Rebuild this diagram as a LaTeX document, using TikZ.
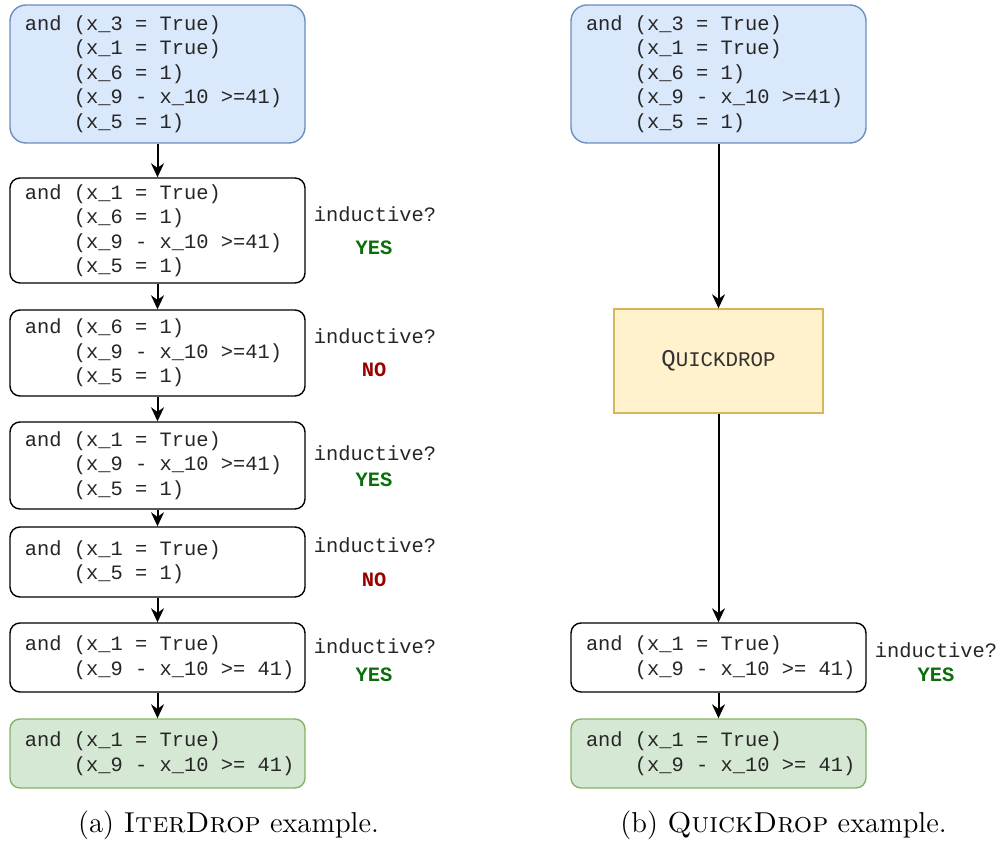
\documentclass[tikz,border=0pt]{standalone}
\usepackage{fontspec}
\setmonofont{Liberation Mono}
\usetikzlibrary{arrows.meta}
\definecolor{bluefill}{HTML}{DAE8FC}
\definecolor{bluedraw}{HTML}{6C8EBF}
\definecolor{greenfill}{HTML}{D5E8D4}
\definecolor{greendraw}{HTML}{82B366}
\definecolor{yellowfill}{HTML}{FFF2CC}
\definecolor{yellowdraw}{HTML}{D6B656}
\definecolor{yescol}{HTML}{0B6E0B}
\definecolor{nocol}{HTML}{990000}
\newcommand{\myind}{\phantom{and }}
\newcommand{\ms}{\spaceskip=0.6em\xspaceskip=0.6em\hfuzz=20pt\relax}
\newcommand{\monofont}{\ttfamily\fontsize{10.2}{12.25}\selectfont}
\tikzset{
  formbox/.style={draw=black, fill=white, line width=0.7pt, rounded corners=5pt,
    minimum width=147.5pt, text width=132.5pt, inner xsep=7.5pt, inner ysep=0pt,
    align=left, font=\monofont, text=black!85},
  bluebox/.style={formbox, draw=bluedraw, fill=bluefill, rounded corners=8pt},
  greenbox/.style={formbox, draw=greendraw, fill=greenfill},
  qbox/.style={draw=yellowdraw, fill=yellowfill, line width=0.7pt,
    minimum width=104.5pt, minimum height=52pt, inner sep=0pt,
    font=\ttfamily, text=black!80},
  lbl/.style={font=\monofont, inner sep=0pt, text=black!85},
  yes/.style={lbl, font=\ttfamily\bfseries\fontsize{10.2}{12.25}\selectfont, text=yescol},
  no/.style={lbl, font=\ttfamily\bfseries\fontsize{10.2}{12.25}\selectfont, text=nocol},
  arr/.style={-{Stealth[length=7pt,width=6.5pt]}, line width=1pt},
  captext/.style={font=\fontsize{14.4}{17}\selectfont, inner sep=0pt}
}
\begin{document}
\begin{tikzpicture}[x=0.5pt,y=-0.5pt]
\useasboundingbox (0,0) rectangle (1000,844);
% left column
\node[bluebox, minimum height=69pt] (a1) at (157.5,74) {\ms and (x\_3 = True)\\ \myind(x\_1 = True)\\ \myind(x\_6 = 1)\\ \mbox{\myind(x\_9 - x\_10 >=41)}\\ \myind(x\_5 = 1)};
\node[formbox, minimum height=52.5pt] (a2) at (157.5,230.5) {\ms and (x\_1 = True)\\ \myind(x\_6 = 1)\\ \mbox{\myind(x\_9 - x\_10 >=41)}\\ \myind(x\_5 = 1)};
\node[formbox, minimum height=43pt] (a3) at (157.5,353) {\ms and (x\_6 = 1)\\ \mbox{\myind(x\_9 - x\_10 >=41)}\\ \myind(x\_5 = 1)};
\node[formbox, minimum height=43.5pt] (a4) at (157.5,465.5) {\ms and (x\_1 = True)\\ \mbox{\myind(x\_9 - x\_10 >=41)}\\ \myind(x\_5 = 1)};
\node[formbox, minimum height=35pt] (a5) at (157.5,562) {\ms and (x\_1 = True)\\ \myind(x\_5 = 1)};
\node[formbox, minimum height=34.5pt] (a6) at (157.5,657.5) {\ms and (x\_1 = True)\\ \mbox{\myind(x\_9 - x\_10 >= 41)}};
\node[greenbox, minimum height=34.5pt] (a7) at (157.5,753.5) {\ms and (x\_1 = True)\\ \mbox{\myind(x\_9 - x\_10 >= 41)}};
\draw[arr] (a1) -- (a2);
\draw[arr] (a2) -- (a3);
\draw[arr] (a3) -- (a4);
\draw[arr] (a4) -- (a5);
\draw[arr] (a5) -- (a6);
\draw[arr] (a6) -- (a7);
\node[lbl] (q2) at (375,214) {inductive?};
\node[yes] (r2) at (374,248) {YES};
\node[lbl] (q3) at (375,336) {inductive?};
\node[no] (r3) at (374,370) {NO};
\node[lbl] (q4) at (375,453) {inductive?};
\node[yes] (r4) at (374,480) {YES};
\node[lbl] (q5) at (375,545) {inductive?};
\node[no] (r5) at (374,580) {NO};
\node[lbl] (q6) at (375,646) {inductive?};
\node[yes] (r6) at (374,675) {YES};
% right column
\node[bluebox, minimum height=69pt] (b1) at (718.5,74) {\ms and (x\_3 = True)\\ \myind(x\_1 = True)\\ \myind(x\_6 = 1)\\ \mbox{\myind(x\_9 - x\_10 >=41)}\\ \myind(x\_5 = 1)};
\node[qbox] (qd) at (718.5,361) {{\fontsize{12}{14}\selectfont Q}{\fontsize{10.4}{12}\selectfont UICKDROP}};
\node[formbox, minimum height=34.5pt] (b2) at (718.5,657.5) {\ms and (x\_1 = True)\\ \mbox{\myind(x\_9 - x\_10 >= 41)}};
\node[greenbox, minimum height=34.5pt] (b3) at (718.5,753.5) {\ms and (x\_1 = True)\\ \mbox{\myind(x\_9 - x\_10 >= 41)}};
\draw[arr] (b1) -- (qd);
\draw[arr] (qd) -- (b2);
\draw[arr] (b2) -- (b3);
\node[lbl] (bq) at (936,650) {inductive?};
\node[yes] (br) at (936,675) {YES};
% captions
\node[captext] (ca) at (228.5,825) {(a) \textsc{IterDrop} example.};
\node[captext] (cb) at (783.5,825) {(b) \textsc{QuickDrop} example.};
\end{tikzpicture}
\end{document}
